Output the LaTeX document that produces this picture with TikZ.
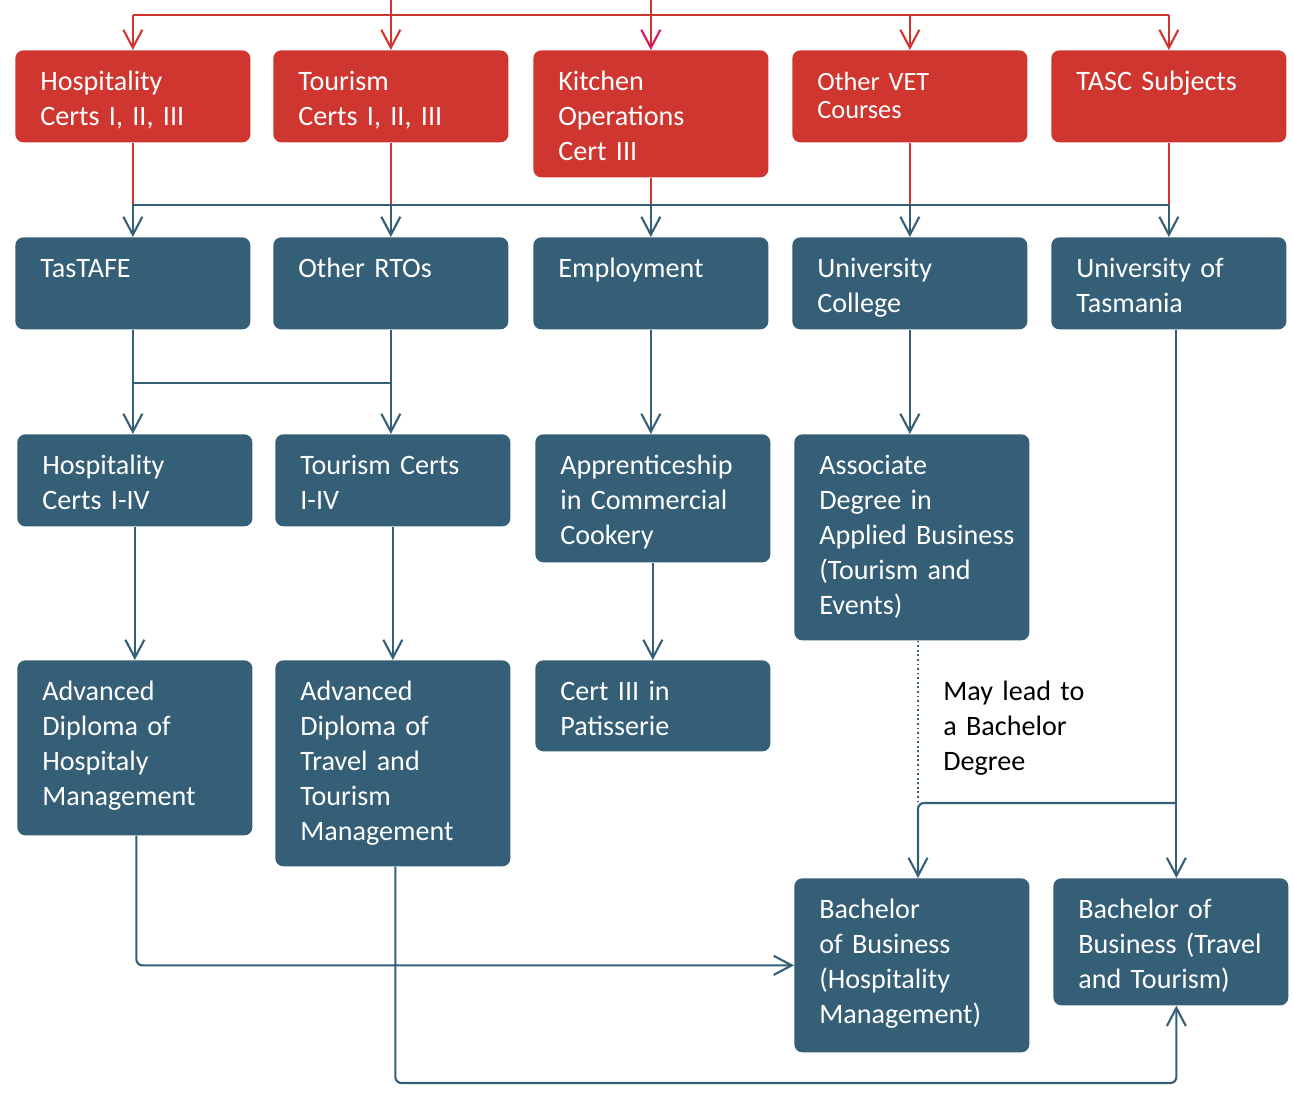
\documentclass[tikz,border=0pt]{standalone}
\usepackage{fontspec}
\setmainfont{Carlito}
\usetikzlibrary{arrows.meta}
\definecolor{certred}{HTML}{CF3630}
\definecolor{pathblue}{HTML}{345F77}
\definecolor{tipred}{HTML}{D9145A}

\begin{document}
\begin{tikzpicture}[
  font=\fontsize{16}{19.9}\selectfont,
  card/.style={anchor=north west, rounded corners=0.16cm, text=white, inner sep=0pt,
    text width=4.7cm, text height=0.8cm, text depth=#1,
    execute at begin node={\leftskip=0.5cm\rightskip=0pt plus 1fil\relax}},
  redcard/.style={card=#1, fill=certred},
  bluecard/.style={card=#1, fill=pathblue},
  tip/.style={-{Straight Barb[length=3.6mm,width=3.8mm]}},
  redline/.style={draw=certred, line width=1.2pt},
  blueline/.style={draw=pathblue, line width=1.2pt},
  note/.style={anchor=north west, inner sep=0pt, text width=4cm, text height=0.8cm,
    execute at begin node={\rightskip=0pt plus 1fil\relax}}
]
\useasboundingbox (0,0) rectangle (25.86,-21.92);

\coordinate (edge) at (0,0);
\coordinate (bustop) at (0,-0.3);
\coordinate (busmid) at (0,-4.1);
\coordinate (join) at (0,-7.66);
\coordinate (maybe) at (18.36,-16.06);
\coordinate (low) at (0,-21.66);

% school subjects
\node (hosp) at (0.30,-1.0) [redcard=1.04cm] {Hospitality\\Certs I, II, III};
\node (tour) at (5.46,-1.0) [redcard=1.04cm] {Tourism\\Certs I, II, III};
\node (kitch) at (10.66,-1.0) [redcard=1.74cm] {Kitchen\\Operations\\Cert III};
\node (vet) at (15.84,-1.0) [redcard=1.04cm, font=\fontsize{15}{16.3}\selectfont] {Other VET\\Courses};
\node (tasc) at (21.02,-1.0) [redcard=1.04cm] {TASC Subjects};

% providers
\node (tafe) at (0.30,-4.74) [bluecard=1.04cm] {TasTAFE};
\node (rto) at (5.46,-4.74) [bluecard=1.04cm] {Other RTOs};
\node (emp) at (10.66,-4.74) [bluecard=1.04cm] {Employment};
\node (ucol) at (15.84,-4.74) [bluecard=1.04cm] {University\\College};
\node (utas) at (21.02,-4.74) [bluecard=1.04cm] {University of\\Tasmania};

% courses
\node (hcert) at (0.34,-8.68) [bluecard=1.04cm] {Hospitality\\Certs I-IV};
\node (tcert) at (5.50,-8.68) [bluecard=1.04cm] {Tourism Certs\\I-IV};
\node (appr) at (10.70,-8.68) [bluecard=1.76cm] {Apprenticeship\\in Commercial\\Cookery};
\node (assoc) at (15.88,-8.68) [bluecard=3.32cm] {Associate\\Degree in\\Applied Business\\(Tourism and\\Events)};

\node (advh) at (0.34,-13.2) [bluecard=2.70cm] {Advanced\\Diploma of\\Hospitaly\\Management};
\node (advt) at (5.50,-13.2) [bluecard=3.32cm] {Advanced\\Diploma of\\Travel and\\Tourism\\Management};
\node (patis) at (10.70,-13.2) [bluecard=1.02cm] {Cert III in\\Patisserie};

\node (bhosp) at (15.88,-17.56) [bluecard=2.68cm] {Bachelor\\of Business\\(Hospitality\\Management)};
\node (btrav) at (21.06,-17.56) [bluecard=1.74cm] {Bachelor of\\Business (Travel\\and Tourism)};

\node (lead) at (18.86,-13.2) [note] {May lead to\\a Bachelor\\Degree};

% into the school subjects
\draw[redline] (hosp.north |- bustop) -- (tasc.north |- bustop);
\draw[redline, tip] (hosp.north |- bustop) -- (hosp.north);
\draw[redline, tip] (tour.north |- edge) -- (tour.north);
\draw[redline, -{Straight Barb[length=3.6mm,width=3.8mm,color=tipred]}] (kitch.north |- edge) -- (kitch.north);
\draw[redline, tip] (vet.north |- bustop) -- (vet.north);
\draw[redline, tip] (tasc.north |- bustop) -- (tasc.north);

% subjects to providers
\foreach \src in {hosp,tour,kitch,vet,tasc}
  \draw[redline] (\src.south) -- (\src.south |- busmid);
\draw[blueline] (hosp.south |- busmid) -- (tasc.south |- busmid);
\foreach \dst in {tafe,rto,emp,ucol,utas}
  \draw[blueline, tip] (\dst.north |- busmid) -- (\dst.north);

% providers to courses
\draw[blueline] (tafe.south) -- (tafe.south |- join) -- (rto.south |- join);
\draw[blueline] (rto.south) -- (rto.south |- join);
\draw[blueline, tip] (tafe.south |- join) -- (tafe.south |- hcert.north);
\draw[blueline, tip] (rto.south |- join) -- (rto.south |- tcert.north);
\draw[blueline, tip] (emp.south) -- (emp.south |- appr.north);
\draw[blueline, tip] (ucol.south) -- (ucol.south |- assoc.north);

\draw[blueline, tip] (hcert) -- (advh);
\draw[blueline, tip] (tcert) -- (advt);
\draw[blueline, tip] (appr) -- (patis);

% on to the degrees
\draw[blueline, line width=1.5pt, dash pattern=on 1pt off 1.6pt] (assoc.south -| maybe) -- (maybe);
\draw[blueline, tip] ([xshift=0.15cm]utas.south) -- ([xshift=0.15cm]utas.south |- btrav.north);
\draw[blueline, tip, rounded corners=0.12cm] ([xshift=0.15cm]utas.south |- maybe) -- (maybe) -- (maybe |- bhosp.north);
\draw[blueline, tip, rounded corners=0.12cm] ([xshift=0.03cm]advh.south) |- (bhosp.west);
\draw[blueline, tip, rounded corners=0.12cm] ([xshift=0.05cm]advt.south) -- ([xshift=0.05cm]advt.south |- low) -| ([xshift=0.11cm]btrav.south);
\end{tikzpicture}
\end{document}
